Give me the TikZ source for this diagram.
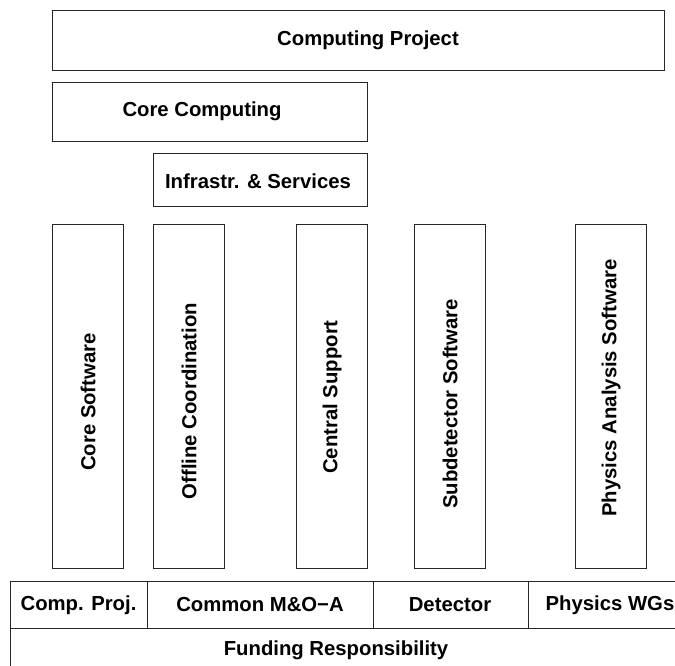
\documentclass[tikz,border=0pt]{standalone}
\usepackage{fontspec}
\setmainfont{Liberation Sans}
\begin{document}
\begin{tikzpicture}[x=1pt,y=-1pt,
  box/.style={draw=black!85,line width=1pt},
  lbl/.style={font=\fontsize{20.3}{24}\selectfont\bfseries,inner sep=0pt},
  vlbl/.style={lbl,rotate=90}]
\useasboundingbox (0,0) rectangle (675,665);
\clip (0,0) rectangle (675,665);
% top boxes
\draw[box] (52,10) rectangle (664,70);
\node[lbl] (cp) at (368,40) {Computing Project};
\draw[box] (52,82) rectangle (367,141);
\node[lbl] (cc) at (202,111) {Core Computing};
\draw[box] (153,153) rectangle (367,206);
\node[lbl] (is) at (258,181) {Infrastr. \& Services};
% vertical boxes
\draw[box] (52,224) rectangle (123,568);
\node[vlbl] (cs) at (88,402) {Core Software};
\draw[box] (153,224) rectangle (224,568);
\node[vlbl] (oc) at (189,401) {Offline Coordination};
\draw[box] (296,224) rectangle (367,568);
\node[vlbl] (su) at (332,397) {Central Support};
\draw[box] (414,224) rectangle (485,568);
\node[vlbl] (sd) at (450,404) {Subdetector Software};
\draw[box] (575,224) rectangle (646,568);
\node[vlbl] (pa) at (611,388) {Physics Analysis Software};
% bottom table
\draw[box] (680,581) -- (10,581) -- (10,680);
\draw[box] (10,628) -- (680,628);
\draw[box] (147,581) -- (147,628);
\draw[box] (373,581) -- (373,628);
\draw[box] (528,581) -- (528,628);
\node[lbl] (b1) at (78.5,605) {Comp. Proj.};
\node[lbl] (b2) at (260,605) {Common M\&O−A};
\node[lbl] (b3) at (450,605) {Detector};
\node[lbl] (b4) at (610,605) {Physics WGs};
\node[lbl] (fr) at (336,650) {Funding Responsibility};
\end{tikzpicture}
\end{document}
